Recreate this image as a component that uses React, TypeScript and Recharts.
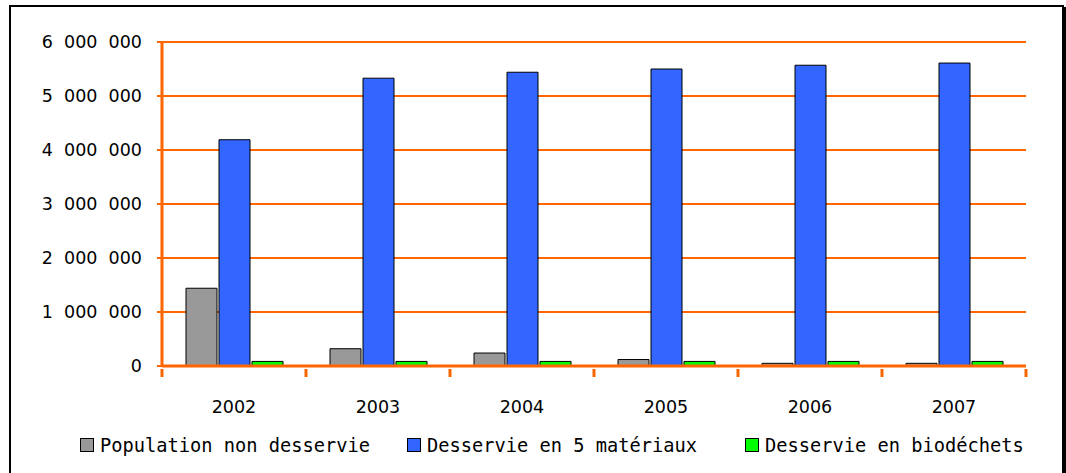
import React from 'react';
import { BarChart, Bar, XAxis, YAxis, CartesianGrid, Legend } from 'recharts';

const years = ['2002', '2003', '2004', '2005', '2006', '2007'];
const nonDesservie = [1440000, 320000, 240000, 120000, 50000, 50000];
const cinqMateriaux = [4190000, 5330000, 5440000, 5500000, 5570000, 5610000];
const biodechets = [85000, 85000, 85000, 85000, 85000, 85000];
const yTicks = [0, 1000000, 2000000, 3000000, 4000000, 5000000, 6000000];

const series = [
  { key: 'nonDesservie', name: 'Population non desservie', color: '#999999' },
  { key: 'cinqMateriaux', name: 'Desservie en 5 matériaux', color: '#3366FF' },
  { key: 'biodechets', name: 'Desservie en biodéchets', color: '#00FF00' },
];

const data = years.map((year, i) => ({
  year,
  nonDesservie: nonDesservie[i],
  cinqMateriaux: cinqMateriaux[i],
  biodechets: biodechets[i],
}));

const ORANGE = '#FF6600';
const legendItemWidths = [327, 338, 300];

// figure spaces so the groups come out as wide as in the original
const fmt = (v: number) => String(v).replace(/\B(?=(\d{3})+(?!\d))/g, '\u2007');

const XTick = (props: any) => {
  const { x, y, payload, index } = props;
  const half = payload.offset ?? 72;
  return (
    <g>
      {index === 0 && <line x1={x - half} x2={x - half} y1={y - 5} y2={y + 3} stroke={ORANGE} strokeWidth={3} />}
      <line x1={x + half} x2={x + half} y1={y - 5} y2={y + 3} stroke={ORANGE} strokeWidth={3} />
      <text x={x} y={y + 39} textAnchor="middle" fontFamily="DejaVu Sans" fontSize={17.5} fill="#000">
        {payload.value}
      </text>
    </g>
  );
};

const LegendContent = () => (
  <div style={{ display: 'flex', height: 30, alignItems: 'center', paddingLeft: 80, fontFamily: 'DejaVu Sans Mono', fontSize: 18.7, color: '#000' }}>
    {series.map((s, i) => (
      <div key={s.key} style={{ display: 'flex', alignItems: 'center', width: legendItemWidths[i], whiteSpace: 'nowrap' }}>
        <span style={{ width: 12, height: 12, background: s.color, border: '1.5px solid #000', marginRight: 6, flexShrink: 0 }} />
        <span>{s.name}</span>
      </div>
    ))}
  </div>
);

export default function App() {
  return (
    <div style={{ position: 'absolute', left: 0, top: 0, width: 1066, height: 473, overflow: 'hidden', background: '#fff' }}>
      <div style={{ position: 'absolute', left: 9, top: 5, width: 1051, height: 480, border: '2px solid #000', boxShadow: '2px 2px 0 #000' }} />
      <div style={{ position: 'absolute', left: 0, top: 0 }}>
        <BarChart
          width={1066}
          height={473}
          data={data}
          margin={{ top: 42, right: 40, left: 0, bottom: 47 }}
          barGap={2}
          barSize={31}
        >
          <CartesianGrid vertical={false} stroke={ORANGE} strokeWidth={2} />
          <XAxis
            dataKey="year"
            height={30}
            axisLine={{ stroke: ORANGE, strokeWidth: 3 }}
            tickLine={false}
            tick={<XTick />}
            interval={0}
          />
          <YAxis
            width={162}
            domain={[0, 6000000]}
            ticks={yTicks}
            tickFormatter={fmt}
            axisLine={{ stroke: ORANGE, strokeWidth: 3 }}
            tickLine={{ stroke: ORANGE, strokeWidth: 2 }}
            tickSize={5}
            tickMargin={15}
            tick={{ fill: '#000', fontFamily: 'DejaVu Sans', fontSize: 17.5 }}
          />
          <Legend
            content={<LegendContent />}
            wrapperStyle={{ top: 430, bottom: 'auto', left: 0, width: 1066 }}
          />
          {series.map((s) => (
            <Bar
              key={s.key}
              dataKey={s.key}
              name={s.name}
              fill={s.color}
              stroke="#000"
              strokeWidth={1}
              isAnimationActive={false}
            />
          ))}
        </BarChart>
      </div>
    </div>
  );
}
